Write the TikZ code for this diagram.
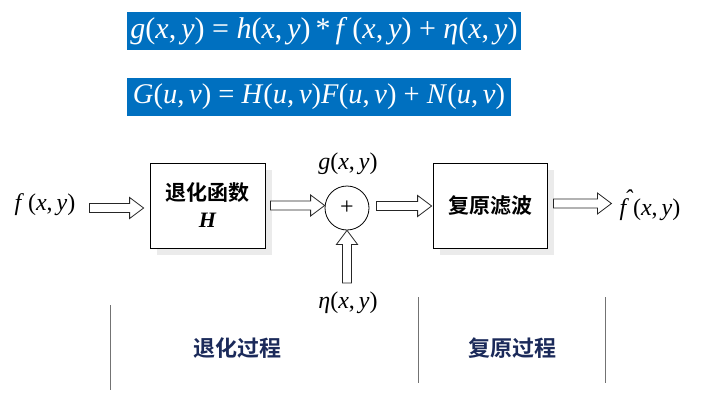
\documentclass[tikz,border=0pt]{standalone}
\usepackage{fontspec}
\setmainfont{Liberation Serif}
\newfontfamily\cjkb{Noto Sans CJK SC Bold}
\usetikzlibrary{calc,shadows}
\definecolor{eqblue}{HTML}{0070C0}
\definecolor{navy}{HTML}{1B2A5A}
\newcommand\mi[1]{\textit{#1}}
\newcommand\xy{(\mi{x},\,\mi{y})}
\newcommand\uv{(\mi{u},\,\mi{v})}
\newcommand\fhat{\rlap{\hspace{0.2em}\raisebox{0.36em}{\mi{\symbol{"02C6}}}}\mi{f}}
\begin{document}
\begin{tikzpicture}[x=1pt,y=-1pt,
  eqbox/.style={fill=eqblue, text=white, inner sep=0pt},
  blockbox/.style={draw=black, line width=0.8pt, fill=white, inner sep=0pt, align=center,
    drop shadow={shadow xshift=7pt, shadow yshift=-7pt, fill=black!8, opacity=1}},
  lab/.style={font=\fontsize{24}{26}\selectfont, inner sep=0pt},
  harr/.style={draw=black!85, line width=0.8pt, fill=white},
  sep/.style={draw=black!55, line width=1pt},
  stage/.style={text=navy, font=\cjkb\fontsize{22}{24}\selectfont, inner sep=0pt}
]
\useasboundingbox (0,0) rectangle (721,402);

% equation boxes
\node[eqbox, minimum width=394pt, minimum height=38pt, font=\fontsize{30}{32}\selectfont] (eq1) at (324,31)
  {\mi{g}\xy{} = \mi{h}\xy\,*\,\mi{f}\,\xy{} + \mi{η}\xy};
\node[eqbox, minimum width=384pt, minimum height=38pt, font=\fontsize{28.5}{32}\selectfont] (eq2) at (319,97)
  {\mi{G}\uv{} = \mi{H}\uv\mi{F}\uv{} + \mi{N}\uv};

% blocks
\node[blockbox, minimum width=115pt, minimum height=85pt, font=\fontsize{21}{27}\selectfont] (deg) at (207.5,205.5)
  {{\cjkb 退化函数}\\{\fontsize{22}{27}\selectfont\bfseries\itshape H}};
\node[blockbox, minimum width=114pt, minimum height=85pt] (rest) at (490,205.5)
  {\cjkb\fontsize{21}{24}\selectfont 复原滤波};
\node[draw=black, line width=0.8pt, circle, minimum size=44pt, inner sep=0pt,
  font=\fontsize{24}{26}\selectfont] (sum) at (347,208) {+};

% labels
\node[lab] (fin) at (45,205) {\mi{f}\,\xy};
\node[lab] (fout) at (650,205) {\fhat\,\xy};
\node[lab] (g) at (348,164) {\mi{g}\xy};
\node[lab] (eta) at (348,303) {\mi{η}\xy};

% hollow arrows
\newcommand\harrow[2]{\path[harr] let \p1=(#1), \p2=(#2) in
  (\x1,\y1+4.5pt) -- (\x2-14pt,\y1+4.5pt) -- (\x2-14pt,\y1+10.5pt) -- (\x2,\y1)
  -- (\x2-14pt,\y1-10.5pt) -- (\x2-14pt,\y1-4.5pt) -- (\x1,\y1-4.5pt) -- cycle;}
\newcommand\varrow[2]{\path[harr] let \p1=(#1), \p2=(#2) in
  (\x1-4.5pt,\y1) -- (\x1-4.5pt,\y2-14pt) -- (\x1-10.5pt,\y2-14pt) -- (\x1,\y2)
  -- (\x1+10.5pt,\y2-14pt) -- (\x1+4.5pt,\y2-14pt) -- (\x1+4.5pt,\y1) -- cycle;}

\coordinate (a1s) at ($(fin.east)+(14,3)$);
\coordinate (a1e) at ($(deg.west)+(-6,3)$);
\harrow{a1s}{a1e}
\coordinate (a2s) at ($(deg.east)+(5,0)$);
\coordinate (a2e) at (sum.west);
\harrow{a2s}{a2e}
\coordinate (a3s) at ($(sum.east)+(7,-2)$);
\coordinate (a3e) at ($(rest.west)+(-1,-2)$);
\harrow{a3s}{a3e}
\coordinate (a4s) at ($(rest.east)+(6,-2)$);
\coordinate (a4e) at ($(fout.west)+(-8,-2)$);
\harrow{a4s}{a4e}
\coordinate (a5s) at (347,283);
\varrow{a5s}{sum.south}

% stage separators
\coordinate (s1t) at (110,305); \coordinate (s1b) at (110,390);
\coordinate (s2t) at (418,297); \coordinate (s2b) at (418,383);
\coordinate (s3t) at (605,297); \coordinate (s3b) at (605,383);
\draw[sep] (s1t) -- (s1b);
\draw[sep] (s2t) -- (s2b);
\draw[sep] (s3t) -- (s3b);
\node[stage] (st1) at (237,348) {退化过程};
\node[stage] (st2) at (512,348) {复原过程};
\end{tikzpicture}
\end{document}
